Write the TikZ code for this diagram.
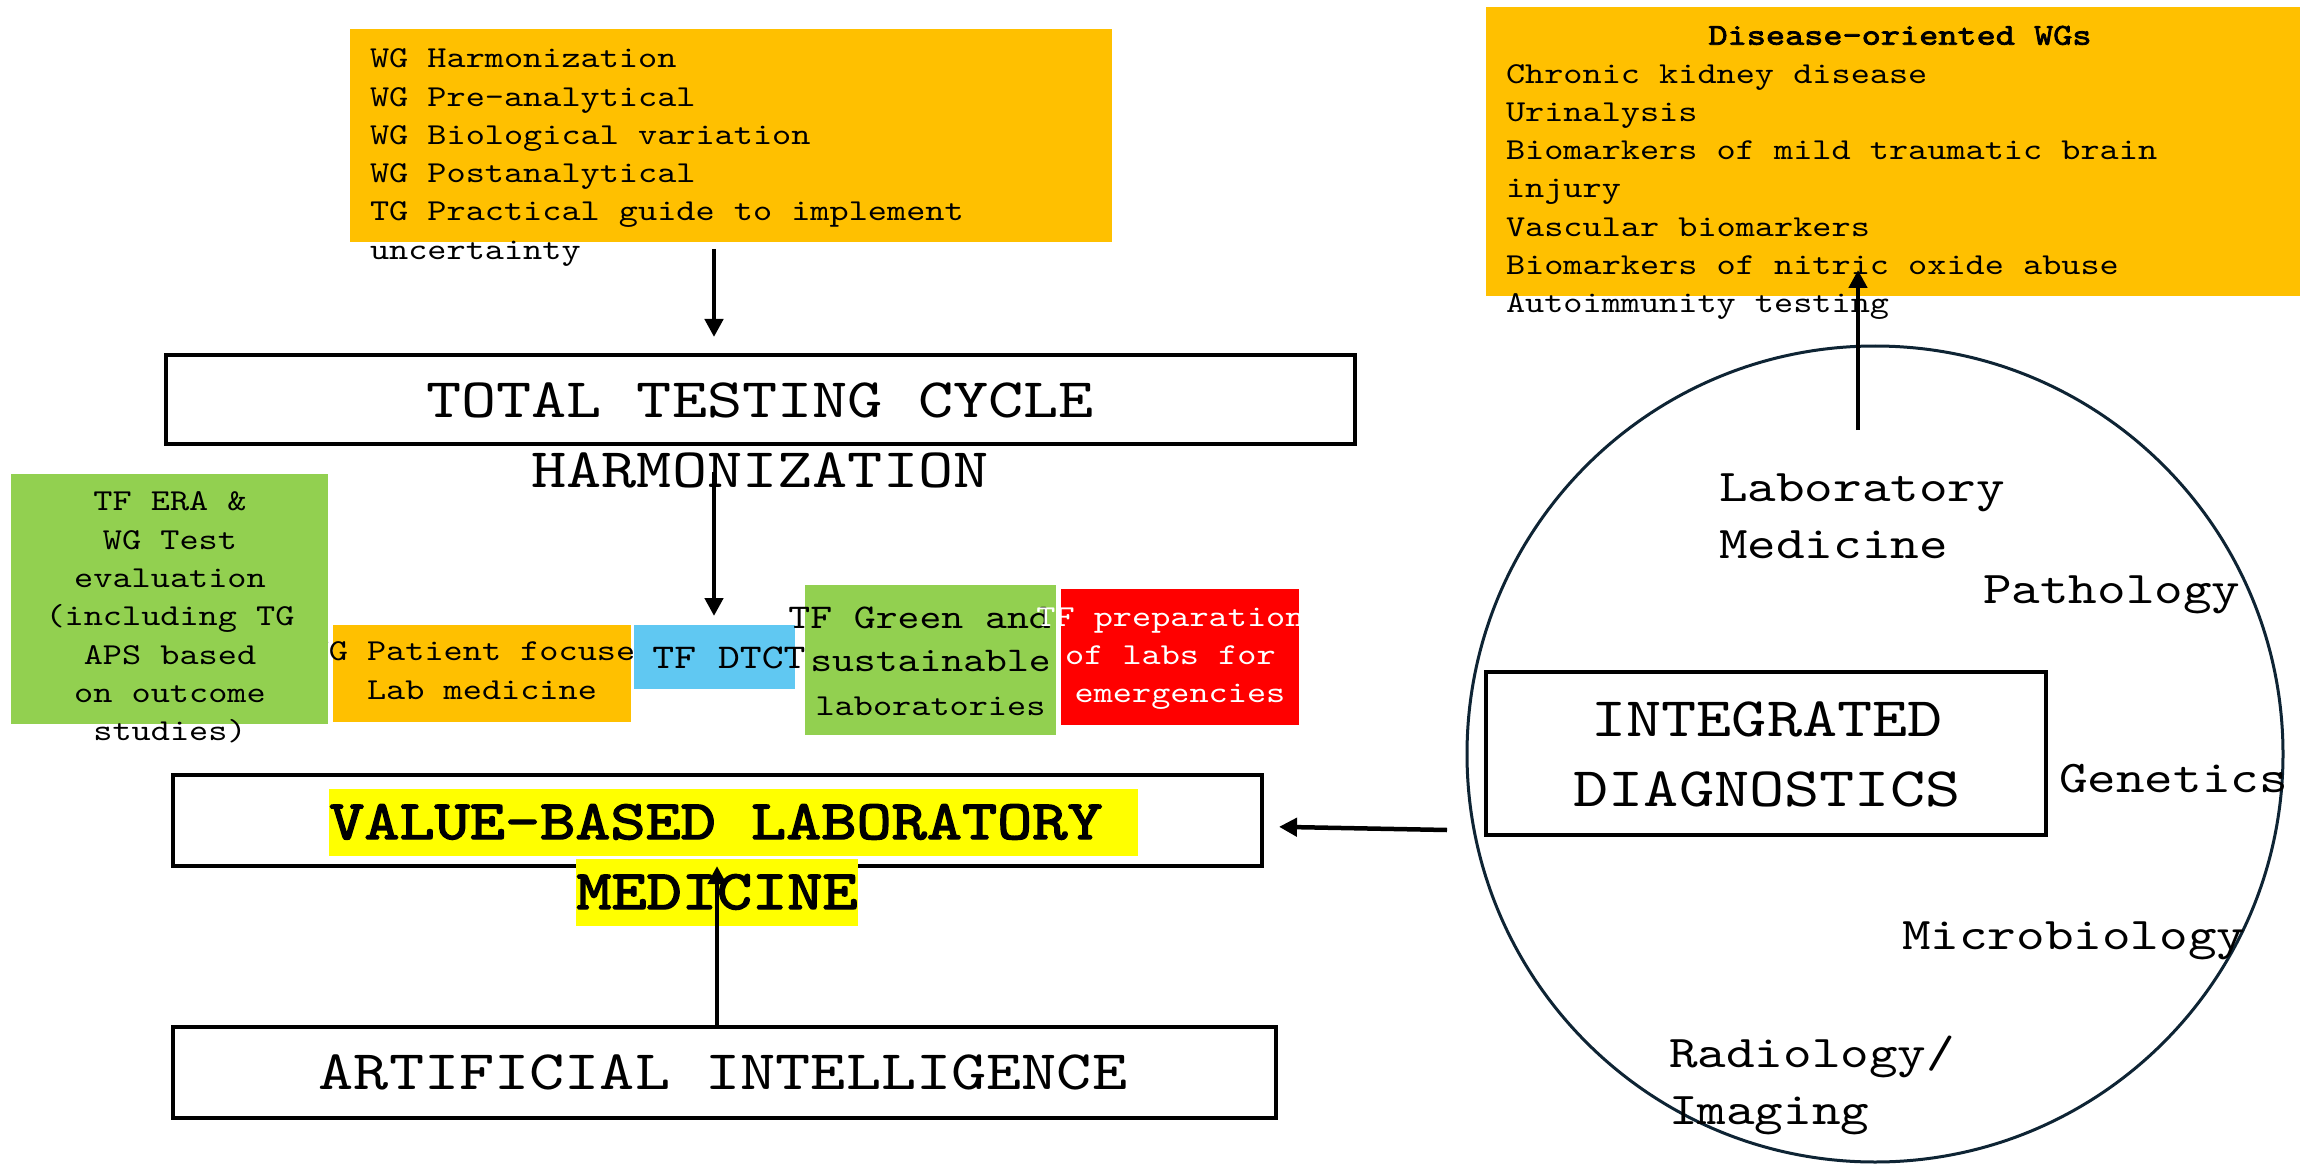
\documentclass[tikz,border=0pt]{standalone}
\usepackage{fontspec}
\usetikzlibrary{arrows.meta}
\newfontfamily\cmono{lmmono10-regular.otf}[FakeStretch=1.2]
\newfontfamily\cmonob{lmmono10-regular.otf}[FakeStretch=1.2,FakeBold=2.5]
\newcommand\ftS{\cmono\fontsize{30.4}{38.3}\selectfont}
\newcommand\ftSB{\cmonob\fontsize{30.4}{38.3}\selectfont}
\newcommand\ftM{\cmono\fontsize{34.7}{43.5}\selectfont}
\newcommand\ftC{\cmono\fontsize{45.4}{57}\selectfont}
\newcommand\ftB{\cmono\fontsize{55.8}{70}\selectfont}
\newcommand\ftBB{\cmonob\fontsize{55.8}{70}\selectfont}
\definecolor{orangeC}{RGB}{255,192,0}
\definecolor{greenC}{RGB}{146,208,80}
\definecolor{blueC}{RGB}{96,200,242}
\definecolor{redC}{RGB}{255,0,0}
\definecolor{hlyellow}{RGB}{255,255,0}
\definecolor{navyC}{RGB}{14,36,52}
\newcommand\hlline[1]{\colorbox{hlyellow}{\rule[-17pt]{0pt}{67pt}#1}}
\tikzset{
  fillbox/.style={rectangle, inner sep=0pt, outer sep=0pt},
  linebox/.style={rectangle, draw=black, line width=4pt, inner sep=0pt, outer sep=0pt},
  txt/.style={inner sep=0pt, outer sep=0pt},
  arr/.style={draw=black, line width=4.5pt, -{Triangle[length=18pt,width=18pt]}},
}
\setlength{\fboxsep}{0pt}
\begin{document}
\begin{tikzpicture}[x=1pt,y=-1pt]
\fill[white] (0,0) rectangle (2300,1166);
\useasboundingbox (0,0) rectangle (2300,1166);

% top WG box
\node[fillbox, fill=orangeC, minimum width=762pt, minimum height=213pt] (topbox) at (731,135.5) {};
\node[txt, anchor=north west, align=left, font=\ftS] (toptext) at (370,40.9)
  {\strut WG Harmonization\\WG Pre-analytical\\WG Biological variation\\WG Postanalytical\\TG Practical guide to implement\\uncertainty};

% total testing cycle
\node[linebox, minimum width=1189pt, minimum height=89pt] (ttc) at (760.5,399.5) {};
\node[txt, anchor=north, align=center, font=\ftB] (ttctext) at (760,368)
  {\strut TOTAL TESTING CYCLE\\HARMONIZATION};

% coloured task force boxes
\node[fillbox, fill=orangeC, minimum width=298pt, minimum height=97pt] (patient) at (482,673.5) {};
\node[txt, anchor=north, align=center, font=\ftS] (patienttext) at (482,634)
  {\strut WG Patient focused\\Lab medicine};

\node[fillbox, fill=greenC, minimum width=317pt, minimum height=250pt] (era) at (169.5,599) {};
\node[txt, anchor=north, align=center, font=\ftS] (eratext) at (170,484)
  {\strut TF ERA \&\\WG Test\\evaluation\\(including TG\\APS based\\on outcome\\studies)};

\node[fillbox, fill=blueC, minimum width=161pt, minimum height=64pt] (dtct) at (714.5,657) {};
\node[txt, anchor=base, font=\ftM] (dtcttext) at (729,668.5) {TF DTCT};

\node[fillbox, fill=greenC, minimum width=251pt, minimum height=150pt] (sust) at (930.5,660) {};
\node[txt, anchor=north, align=center, font=\ftM] (susttext) at (930.5,597.6)
  {\strut TF Green and\phantom{x}\\sustainable\\{\ftS laboratories}};

\node[fillbox, fill=redC, minimum width=238pt, minimum height=136pt] (prep) at (1180,657) {};
\node[txt, anchor=north, align=center, font=\ftS, text=white] (preptext) at (1180,599.2)
  {\strut TF preparation\phantom{x}\\of labs for\phantom{x}\\emergencies};

% value-based laboratory medicine
\node[linebox, minimum width=1089pt, minimum height=91pt] (vbl) at (717.5,820.5) {};
\node[txt, anchor=north, align=center, font=\ftBB] (vbltext) at (733.5,789)
  {\hlline{VALUE-BASED LABORATORY\ }\\\hlline{MEDICINE}\kern33pt};

% artificial intelligence
\node[linebox, minimum width=1103pt, minimum height=91pt] (ai) at (724.5,1072.5) {};
\node[txt, anchor=base, font=\ftB] (aitext) at (723,1089) {ARTIFICIAL INTELLIGENCE};

% integrated diagnostics circle
\node[circle, draw=navyC, line width=3pt, minimum size=816pt, inner sep=0pt] (circ) at (1875,754) {};
\node[linebox, minimum width=560pt, minimum height=163pt] (integ) at (1766,753.5) {};
\node[txt, anchor=north, align=center, font=\ftB] (integtext) at (1767,687)
  {\strut INTEGRATED\\DIAGNOSTICS};
\node[txt, anchor=north west, align=left, font=\ftC] (labmed) at (1719,462) {\strut Laboratory\\Medicine};
\node[txt, anchor=base west, font=\ftC] (patho) at (1983,603) {Pathology};
\node[txt, anchor=base west, font=\ftC] (genet) at (2059,792) {Genetics};
\node[txt, anchor=base west, font=\ftC] (micro) at (1902,949) {Microbiology};
\node[txt, anchor=north west, align=left, font=\ftC] (radio) at (1669,1028) {\strut Radiology/\\Imaging};

% disease-oriented WGs
\node[fillbox, fill=orangeC, minimum width=814pt, minimum height=289pt] (disease) at (1893,151.5) {};
\node[txt, anchor=north west, align=left, font=\ftS] (diseasetext) at (1506,17.9)
  {\strut\makebox[788pt][c]{\ftSB Disease-oriented WGs}\\Chronic kidney disease\\Urinalysis\\Biomarkers of mild traumatic brain\\injury\\Vascular biomarkers\\Biomarkers of nitric oxide abuse\\Autoimmunity testing};

% connectors
\coordinate (axA) at (714,0);
\coordinate (axC) at (717,0);
\coordinate (upTail) at (1858,430);
\coordinate (cvTail) at (1447,830);
\draw[arr, shorten <=7pt, shorten >=18pt] (topbox.south -| axA) -- (ttc.north -| axA);
\draw[arr, shorten <=28pt, shorten >=9pt] (ttc.south -| axA) -- (dtct.north -| axA);
\draw[arr] (ai.north -| axC) -- (vbl.south -| axC);
\draw[arr, shorten >=17pt] (cvTail) -- ([yshift=-6pt]vbl.east);
\draw[arr, shorten >=-26pt] (upTail) -- (disease.south -| upTail);
\end{tikzpicture}
\end{document}
